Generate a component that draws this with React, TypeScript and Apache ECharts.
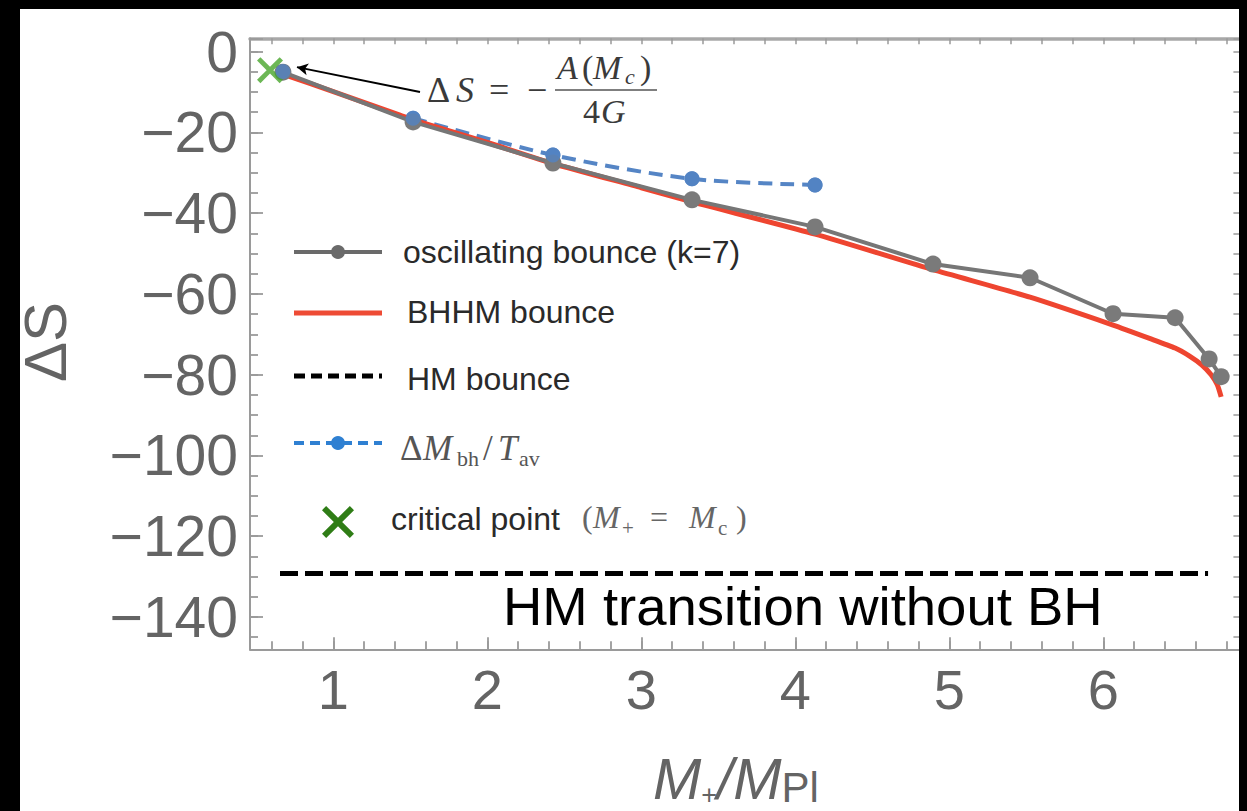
import React, { useEffect, useRef } from "react";
import * as echarts from "echarts";

// ---------- data ----------
const oscX = [0.673, 1.518, 2.426, 3.329, 4.128, 4.894, 5.524, 6.063, 6.466, 6.687, 6.765];
const oscY = [-5.1, -17.4, -27.6, -36.7, -43.4, -52.6, -56.0, -64.9, -65.9, -76.1, -80.5];

const bhhmX = [0.69, 1.0, 1.433, 1.518, 2.0, 2.426, 3.0, 3.329, 4.128, 4.894, 5.524, 6.063, 6.3, 6.466, 6.56, 6.64, 6.7, 6.74, 6.765];
const bhhmY = [-5.8, -9.9, -15.7, -16.9, -22.5, -27.7, -33.7, -37.2, -45.2, -54.0, -60.8, -67.7, -71.0, -73.4, -75.4, -77.6, -80.0, -82.5, -85.5];

const dmX = [0.673, 1.518, 2.426, 3.329, 4.128];
const dmY = [-4.9, -16.5, -25.6, -31.5, -33.0];

const hmX = [0.654, 6.68];
const hmY = [-129.2, -129.2];

const critX = [0.589];
const critY = [-4.6];

const arrowFrom = [1.563, -10.0];
const arrowTo = [0.764, -3.84];

const X_MIN = 0.459;
const X_MAX = 6.89;
const Y_MIN = -148;
const Y_MAX = 3.3;

const SANS = '"Liberation Sans", Arial, Helvetica, sans-serif';
const SERIF = '"Liberation Serif", "Times New Roman", serif';

const TICK = "#9a9a9a";
const LABEL = "#646464";

const zip = (xs: number[], ys: number[]) => xs.map((x, i) => [x, ys[i]]);

const X_PTS = [
  [1.3, 0], [5, 3.7], [8.7, 0], [10, 1.3], [6.3, 5], [10, 8.7],
  [8.7, 10], [5, 6.3], [1.3, 10], [0, 8.7], [3.7, 5], [0, 1.3],
];
const X_PATH = "path://M" + X_PTS.map((p) => p.join(",")).join(" L") + " Z";

function mt(
  text: string,
  x: number,
  baseline: number,
  size: number,
  opts: { italic?: boolean; serif?: boolean; color?: string } = {}
) {
  const { italic = false, serif = true, color = "#444" } = opts;
  return {
    type: "text",
    x,
    y: baseline - 0.34 * size,
    z: 50,
    silent: true,
    style: {
      text,
      fill: color,
      fontSize: size,
      fontFamily: serif ? SERIF : SANS,
      fontStyle: italic ? "italic" : "normal",
      lineHeight: Math.round(size * 0.8),
      align: "left",
      verticalAlign: "middle",
    },
  };
}

function buildOption() {
  const xLabelFmt = (v: number) =>
    Math.abs(v - Math.round(v)) < 1e-6 ? String(Math.round(v)) : "";
  const yLabelFmt = (v: number) => {
    const r = Math.round(v);
    if (Math.abs(v - r) > 1e-6 || r % 20 !== 0) return "";
    return r < 0 ? "\u2212" + -r : String(r);
  };

  const xBase = { type: "value", min: X_MIN, max: X_MAX, gridIndex: 0, splitLine: { show: false } };
  const yBase = { type: "value", min: Y_MIN, max: Y_MAX, gridIndex: 0, splitLine: { show: false } };

  const graphic: any[] = [];
  const LG = "#2a2a2a";

  // ---- legend ----
  graphic.push(
    { type: "line", z: 50, shape: { x1: 294, y1: 252, x2: 382, y2: 252 }, style: { stroke: "#6a6a6a", lineWidth: 4 } },
    { type: "circle", z: 51, shape: { cx: 338, cy: 252, r: 7 }, style: { fill: "#6a6a6a" } },
    mt("oscillating bounce (k=7)", 403, 263, 32, { serif: false, color: LG }),
    { type: "line", z: 50, shape: { x1: 294, y1: 313, x2: 382, y2: 313 }, style: { stroke: "#ee4b35", lineWidth: 5 } },
    mt("BHHM bounce", 407, 323, 32, { serif: false, color: LG }),
    { type: "line", z: 50, shape: { x1: 294, y1: 376, x2: 382, y2: 376 }, style: { stroke: "#000", lineWidth: 5, lineDash: [11, 6] } },
    mt("HM bounce", 407, 390, 32, { serif: false, color: LG }),
    { type: "line", z: 50, shape: { x1: 294, y1: 443, x2: 382, y2: 443 }, style: { stroke: "#2f80d2", lineWidth: 4, lineDash: [10, 6] } },
    { type: "circle", z: 51, shape: { cx: 338, cy: 443, r: 7 }, style: { fill: "#2f80d2" } },
    mt("\u0394", 400, 460, 35, { color: "#555" }),
    mt("M", 423, 460, 35, { italic: true, color: "#555" }),
    mt("bh", 457, 466, 22, { color: "#555" }),
    mt("/", 483, 460, 35, { color: "#555" }),
    mt("T", 498, 460, 35, { italic: true, color: "#555" }),
    mt("av", 519, 466, 22, { color: "#555" }),
    {
      type: "polygon",
      z: 51,
      x: 338 - 16,
      y: 522 - 16,
      shape: { points: X_PTS.map(([a, b]) => [a * 3.2, b * 3.2]) },
      style: { fill: "#2f7d16" },
    },
    mt("critical point", 391, 530, 32, { serif: false, color: LG }),
    mt("(", 582, 528, 32, { color: "#666" }),
    mt("M", 593, 528, 32, { italic: true, color: "#666" }),
    mt("+", 622, 535, 21, { color: "#666" }),
    mt("=", 650, 528, 32, { color: "#666" }),
    mt("M", 689, 528, 32, { italic: true, color: "#666" }),
    mt("c", 718, 535, 21, { color: "#666" }),
    mt(")", 736, 528, 32, { color: "#666" })
  );

  // ---- formula annotation ----
  graphic.push(
    mt("\u0394", 427, 102, 36, { color: "#3a3a3a" }),
    mt("S", 456, 102, 36, { italic: true, color: "#3a3a3a" }),
    mt("=", 489, 102, 36, { color: "#3a3a3a" }),
    mt("\u2212", 527, 102, 36, { color: "#3a3a3a" }),
    { type: "line", z: 50, shape: { x1: 555, y1: 90, x2: 657, y2: 90 }, style: { stroke: "#555", lineWidth: 1.5 } },
    mt("A", 557, 79, 34, { italic: true, color: "#3a3a3a" }),
    mt("(", 582, 79, 34, { color: "#3a3a3a" }),
    mt("M", 593, 79, 34, { italic: true, color: "#3a3a3a" }),
    mt("c", 625, 84, 22, { italic: true, color: "#3a3a3a" }),
    mt(")", 640, 79, 34, { color: "#3a3a3a" }),
    mt("4", 583, 123, 34, { color: "#3a3a3a" }),
    mt("G", 601, 123, 34, { italic: true, color: "#3a3a3a" })
  );

  // ---- overlay text ----
  graphic.push(mt("HM transition without BH", 503, 625, 54.5, { serif: false, color: "#000" }));

  // ---- axis titles ----
  graphic.push(
    {
      type: "text",
      x: 45,
      y: 342,
      rotation: Math.PI / 2,
      z: 50,
      silent: true,
      style: { text: "\u0394S", fill: LABEL, fontSize: 60, fontFamily: SANS, align: "center", verticalAlign: "middle" },
    },
    {
      type: "text",
      x: 653,
      y: 778,
      z: 50,
      silent: true,
      style: {
        text: "{m|M}{s|+}{m|/M}{p|Pl}",
        align: "left",
        verticalAlign: "middle",
        rich: {
          m: { fontSize: 58, fontStyle: "italic", fontFamily: SANS, fill: LABEL, color: LABEL, lineHeight: 60, verticalAlign: "middle" },
          s: { fontSize: 27, fontFamily: SANS, fill: LABEL, color: LABEL, lineHeight: 22, verticalAlign: "bottom" },
          p: { fontSize: 42, fontFamily: SANS, fill: LABEL, color: LABEL, lineHeight: 30, verticalAlign: "bottom" },
        },
      },
    }
  );

  // ---- black border of the picture ----
  graphic.push(
    { type: "rect", z: 200, shape: { x: 0, y: 0, width: 20, height: 811 }, style: { fill: "#000" } },
    { type: "rect", z: 200, shape: { x: 0, y: 0, width: 1247, height: 9 }, style: { fill: "#000" } },
    { type: "rect", z: 200, shape: { x: 1239, y: 0, width: 8, height: 811 }, style: { fill: "#000" } }
  );

  const dmPts = zip(dmX, dmY);

  return {
    animation: false,
    backgroundColor: "#fff",
    grid: {
      left: 250,
      top: 38.3,
      right: 1247 - 1240.4,
      bottom: 811 - 649.3,
      containLabel: false,
      outerBoundsMode: "none",
    },
    xAxis: [
      {
        ...xBase,
        position: "bottom",
        minInterval: 1,
        maxInterval: 1,
        axisLine: { show: true, onZero: false, lineStyle: { color: TICK, width: 2 } },
        axisTick: { show: true, inside: true, length: 12, lineStyle: { color: TICK, width: 1.8 } },
        axisLabel: { show: true, formatter: xLabelFmt, fontSize: 56, fontFamily: SANS, color: LABEL, margin: 12 },
      },
      {
        ...xBase,
        position: "bottom",
        minInterval: 0.2,
        maxInterval: 0.2,
        axisLine: { show: false, onZero: false },
        axisTick: { show: true, inside: true, length: 8, lineStyle: { color: TICK, width: 1.8 } },
        axisLabel: { show: false },
      },
      {
        ...xBase,
        position: "top",
        minInterval: 0.2,
        maxInterval: 0.2,
        axisLine: { show: true, onZero: false, lineStyle: { color: "#a8a8a8", width: 3.5 } },
        axisTick: { show: true, inside: true, length: 6, lineStyle: { color: TICK, width: 1.5 } },
        axisLabel: { show: false },
      },
    ],
    yAxis: [
      {
        ...yBase,
        position: "left",
        minInterval: 20,
        maxInterval: 20,
        axisLine: { show: true, onZero: false, lineStyle: { color: TICK, width: 2 } },
        axisTick: { show: true, inside: true, length: 13, lineStyle: { color: TICK, width: 1.8 } },
        axisLabel: { show: true, formatter: yLabelFmt, fontSize: 57, fontFamily: SANS, color: LABEL, margin: 12 },
      },
      {
        ...yBase,
        position: "left",
        minInterval: 5,
        maxInterval: 5,
        axisLine: { show: false, onZero: false },
        axisTick: { show: true, inside: true, length: 8, lineStyle: { color: TICK, width: 1.8 } },
        axisLabel: { show: false },
      },
      {
        ...yBase,
        position: "right",
        minInterval: 5,
        maxInterval: 5,
        axisLine: { show: true, onZero: false, lineStyle: { color: TICK, width: 2 } },
        axisTick: { show: true, inside: true, length: 7, lineStyle: { color: TICK, width: 1.5 } },
        axisLabel: { show: false },
      },
    ],
    graphic,
    series: [
      {
        name: "dM/Tav line",
        type: "line",
        xAxisIndex: 0,
        yAxisIndex: 0,
        data: dmPts.slice(1),
        symbol: "circle",
        symbolSize: 15,
        smooth: 0.3,
        z: 1,
        itemStyle: { color: "#5383c3" },
        lineStyle: { color: "#5585c5", width: 4, type: [14, 8] },
      },
      {
        name: "BHHM bounce",
        type: "line",
        xAxisIndex: 0,
        yAxisIndex: 0,
        data: zip(bhhmX, bhhmY),
        symbol: "none",
        smooth: 0.2,
        z: 2,
        lineStyle: { color: "#ee4530", width: 5 },
      },
      {
        name: "oscillating bounce (k=7)",
        type: "line",
        xAxisIndex: 0,
        yAxisIndex: 0,
        data: zip(oscX, oscY),
        symbol: "circle",
        symbolSize: 17,
        z: 3,
        itemStyle: { color: "#7a7a7a" },
        lineStyle: { color: "#767676", width: 4 },
      },
      {
        name: "HM bounce",
        type: "line",
        xAxisIndex: 0,
        yAxisIndex: 0,
        data: zip(hmX, hmY),
        symbol: "none",
        z: 3,
        lineStyle: { color: "#000", width: 5, type: [18, 7] },
        markLine: {
          silent: true,
          symbol: ["none", "arrow"],
          symbolSize: [9, 11],
          label: { show: false },
          lineStyle: { color: "#000", width: 2, type: "solid" },
          data: [[{ coord: arrowFrom }, { coord: arrowTo }]],
        },
      },
      {
        name: "critical point",
        type: "scatter",
        xAxisIndex: 0,
        yAxisIndex: 0,
        data: zip(critX, critY),
        symbol: X_PATH,
        symbolSize: 26,
        z: 4,
        itemStyle: { color: "#47a52a" },
      },
      {
        name: "dM/Tav points",
        type: "scatter",
        xAxisIndex: 0,
        yAxisIndex: 0,
        data: dmPts,
        symbol: "circle",
        symbolSize: 15,
        z: 5,
        itemStyle: { color: "#5383c3" },
      },
    ],
  };
}

export default function App() {
  const ref = useRef<HTMLDivElement>(null);
  useEffect(() => {
    if (!ref.current) return;
    const chart = echarts.init(ref.current, null, { renderer: "svg", width: 1247, height: 811 });
    chart.setOption(buildOption() as any);
    return () => chart.dispose();
  }, []);
  return (
    <div
      ref={ref}
      style={{ position: "absolute", left: 0, top: 0, width: 1247, height: 811, background: "#fff" }}
    />
  );
}
